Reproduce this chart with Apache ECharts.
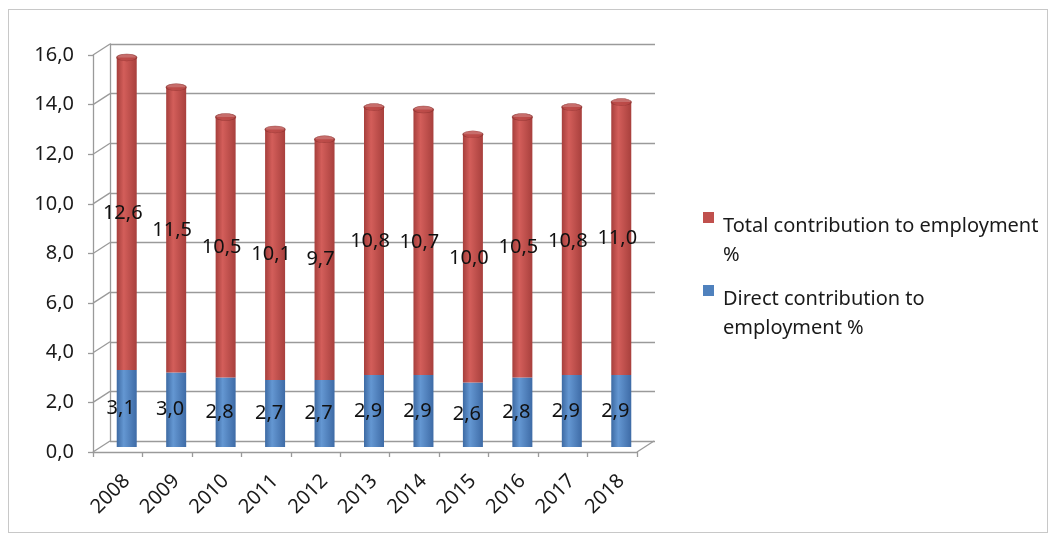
<!DOCTYPE html>
<html><head><meta charset="utf-8">
<script src="https://cdn.jsdelivr.net/npm/echarts@6/dist/echarts.min.js"></script>
<style>
html,body{margin:0;padding:0;background:#fff;}
#c{width:1052px;height:538px;position:absolute;left:0;top:0;}
#frame{position:absolute;left:8px;top:9px;width:1038px;height:522px;border:1px solid #c8c8c8;pointer-events:none;}
</style></head>
<body>
<div id="c"></div><div id="frame"></div>
<script>
const years = ['2008','2009','2010','2011','2012','2013','2014','2015','2016','2017','2018'];
const directValues = [3.1,3.0,2.8,2.7,2.7,2.9,2.9,2.6,2.8,2.9,2.9];
const totalValues = [12.6,11.5,10.5,10.1,9.7,10.8,10.7,10.0,10.5,10.8,11.0];
const yTicks = [0,2,4,6,8,10,12,14,16];
const seriesNames = ['Total contribution to employment\n%','Direct contribution to\nemployment %'];

const FONT = 'Noto Sans';
const FS = 20;
const DX = 17, DY = -11;
const gridColor = '#9a9a9a';
const fmt = v => v.toFixed(1).replace('.', ',');

const chart = echarts.init(document.getElementById('c'));
const cyl = (a,b,c) => ({type:'linear',x:0,y:0,x2:1,y2:0,colorStops:[{offset:0,color:a},{offset:0.35,color:b},{offset:1,color:c}]});
const redGrad = cyl('#a63f3c','#d35e5a','#a8403d');
const blueGrad = cyl('#3d6aa3','#6497d2','#3e6ba6');
const capData = years.map((y,i)=>[i, +(directValues[i]+totalValues[i]).toFixed(1)]);

chart.setOption({
  backgroundColor:'#fff',
  animation:false,
  textStyle:{fontFamily:FONT},
  grid:[
    {left:93, right:415, top:55, bottom:86},   // front axes
    {left:110, right:397, top:44, bottom:97},  // back wall
    {left:102, right:406, top:50, bottom:91}   // bars (mid depth)
  ],
  legend:{
    orient:'vertical', left:703, top:212, padding:0,
    itemWidth:11, itemHeight:58, itemGap:15,
    data:seriesNames.map((n,i)=>({name:n, icon:'path://M0,0L11,0L11,11L0,11Z M0,58L0.01,58L0,58Z', itemStyle:{color:i===0?'#c0504d':'#4f81bd'}})),
    textStyle:{fontFamily:FONT, fontSize:FS, lineHeight:29, color:'#1a1a1a', padding:[0,0,0,4]}
  },
  xAxis:[
    {gridIndex:0, type:'category', data:years, boundaryGap:true,
     axisLine:{lineStyle:{color:gridColor,width:1.3}},
     axisTick:{show:true,length:5,lineStyle:{color:gridColor,width:1.3}},
     axisLabel:{show:false}},
    {gridIndex:1, type:'category', data:years, show:false},
    {gridIndex:2, type:'category', data:years, show:true,
     axisLine:{show:false}, axisTick:{show:false},
     axisLabel:{rotate:45, fontSize:FS, color:'#1a1a1a', margin:31, fontFamily:FONT}}
  ],
  yAxis:[
    {gridIndex:0, type:'value', min:0, max:16, interval:2,
     axisLine:{show:true,lineStyle:{color:gridColor,width:1.3}},
     axisTick:{show:true,length:5,lineStyle:{color:gridColor,width:1.3}},
     splitLine:{show:false},
     axisLabel:{fontSize:FS, color:'#1a1a1a', margin:19, formatter:fmt, fontFamily:FONT}},
    {gridIndex:1, type:'value', min:0, max:16, interval:2,
     axisLine:{show:true,lineStyle:{color:gridColor,width:1.3}},
     axisTick:{show:false}, axisLabel:{show:false},
     splitLine:{show:true,lineStyle:{color:gridColor,width:1.3}}},
    {gridIndex:2, type:'value', min:0, max:16, interval:2, show:false, splitLine:{show:false}}
  ],
  series:[
    {type:'custom', xAxisIndex:0, yAxisIndex:0, silent:true, z:1,
     data: yTicks.map(v=>[0,v,0]).concat([[0,0,1]]),
     renderItem:(params, api)=>{
       const cs = params.coordSys;
       const y = api.coord([0, api.value(1)])[1];
       const x = api.value(2) ? cs.x + cs.width : cs.x;
       return {type:'line', shape:{x1:x,y1:y,x2:x+DX,y2:y+DY}, style:{stroke:gridColor,lineWidth:1.3}};
     }},
    {name:seriesNames[1], type:'bar', stack:'s', xAxisIndex:2, yAxisIndex:2, barWidth:20, z:3,
     data:directValues, itemStyle:{color:blueGrad},
     label:{show:true, position:'inside', offset:[-6,0], fontSize:FS, color:'#111', formatter:p=>fmt(p.value), fontFamily:FONT}},
    {name:seriesNames[0], type:'bar', stack:'s', xAxisIndex:2, yAxisIndex:2, barWidth:20, z:3,
     data:totalValues, itemStyle:{color:redGrad},
     label:{show:true, position:'inside', offset:[-4,0], fontSize:FS, color:'#111', formatter:p=>fmt(p.value), fontFamily:FONT}},
    {type:'scatter', xAxisIndex:2, yAxisIndex:2, silent:true, z:4, symbol:'circle', symbolSize:[20,7],
     data:capData, itemStyle:{color:'#b94946', borderColor:'#8e3532', borderWidth:0.8}}
  ]
});
</script>
</body></html>
